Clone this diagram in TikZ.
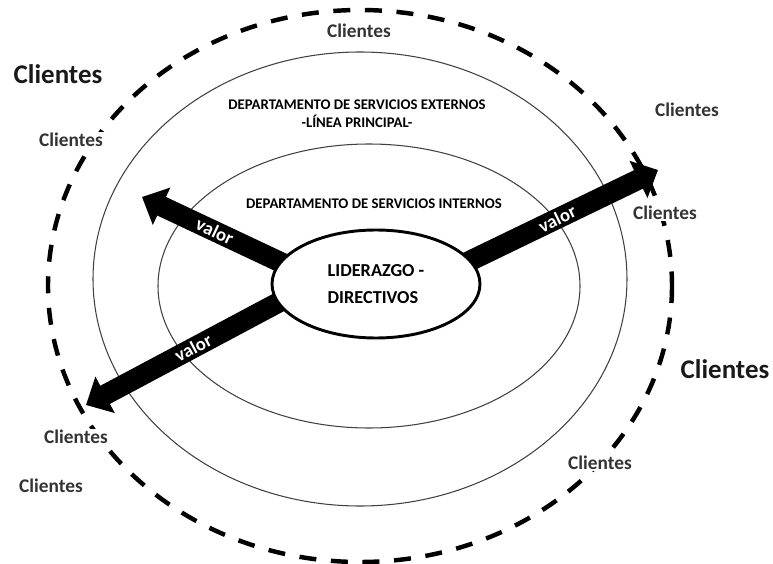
\documentclass[tikz,border=0pt]{standalone}
\usepackage{fontspec}
\setmainfont{Carlito}
\usetikzlibrary{arrows.meta, calc, shapes.geometric, backgrounds}

\begin{document}
\begin{tikzpicture}[x=0.03cm, y=-0.03cm, every node/.style={font=\bfseries},
  clientes/.style={text=black!80, fill=white, inner sep=1pt, font=\bfseries\fontsize{16.5}{19}\selectfont},
  bigclientes/.style={text=black!90, font=\bfseries\fontsize{23}{27}\selectfont},
  dept/.style={align=center, font=\bfseries\fontsize{12.6}{15.3}\selectfont},
  leader/.style={draw, ellipse, line width=2.5pt, fill=white, inner sep=0pt, minimum width=6.24cm, minimum height=3.24cm, align=left, font=\bfseries\fontsize{15.6}{23}\selectfont},
  ring/.style={draw=black!75, line width=0.9pt},
  outring/.style={draw=black, line width=3.8pt, dash pattern=on 14.5pt off 12.5pt},
  valarrow/.style={line width=17.5pt, -{Triangle[length=0.65cm, width=1.2cm]}},
  valor/.style={text=white, sloped, inner sep=0pt, font=\bfseries\fontsize{16}{18}\selectfont}]
  \useasboundingbox (0,0) rectangle (773,564);
  \node[leader] (lid) at (376,284) {LIDERAZGO -\\DIRECTIVOS};
  \coordinate (t1) at (142,197);
  \coordinate (t2) at (658,170);
  \coordinate (t3) at (86,405);
  \begin{scope}[on background layer]
    \draw[outring] (360,286) ellipse [x radius=312, y radius=276];
    \draw[ring] (360,279) ellipse [x radius=267, y radius=227];
    \draw[ring] (369,286) ellipse [x radius=211, y radius=142];
    \draw[valarrow, shorten <=-30pt] (lid.167.7) -- (t1) node[pos=0.47, valor] {valor};
    \draw[valarrow, shorten <=-30pt] (lid.14.8) -- (t2) node[pos=0.46, valor] {valor};
    \draw[valarrow, shorten <=-30pt] (lid.191.4) -- (t3) node[pos=0.44, valor] {valor};
  \end{scope}
  \node[dept] (ext) at (357,114) {DEPARTAMENTO DE SERVICIOS EXTERNOS\\-LÍNEA PRINCIPAL-};
  \node[dept] (int) at (374,204) {DEPARTAMENTO DE SERVICIOS INTERNOS};
  \node[clientes] (cTop) at (359,31) {Clientes};
  \node[bigclientes] (cBigL) at (58,74) {Clientes};
  \node[clientes] (cL1) at (71,140) {Clientes};
  \node[clientes] (cR1) at (687,110) {Clientes};
  \node[clientes] (cR2) at (665,213) {Clientes};
  \node[bigclientes] (cBigR) at (725,369) {Clientes};
  \node[clientes] (cL2) at (76,437) {Clientes};
  \node[clientes] (cL3) at (51,486) {Clientes};
  \node[clientes] (cR3) at (600,463) {Clientes};
\end{tikzpicture}
\end{document}
